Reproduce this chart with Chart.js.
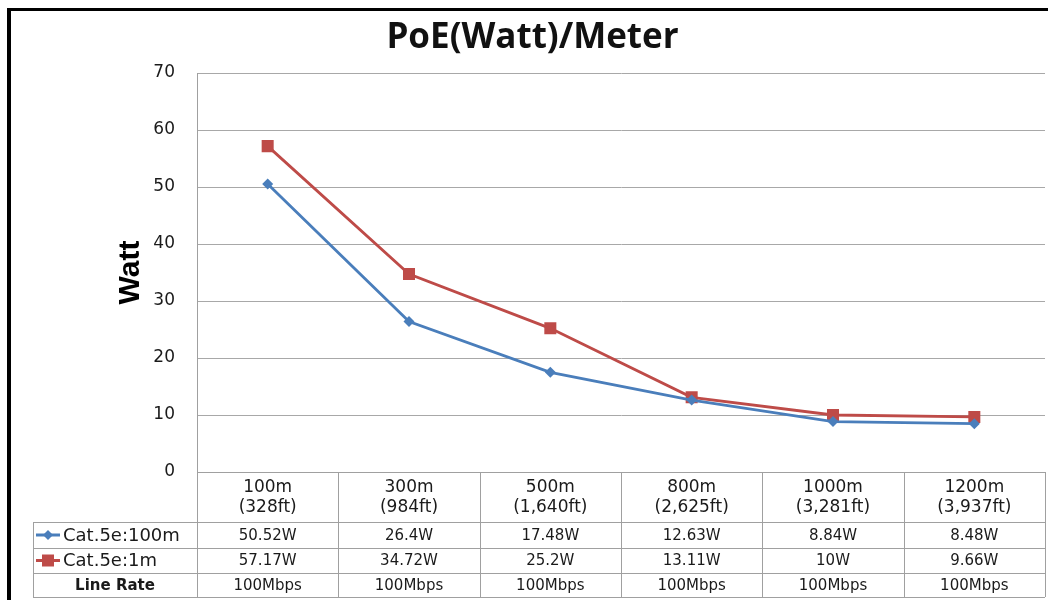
<!DOCTYPE html>
<html><head><meta charset="utf-8">
<script src="https://cdn.jsdelivr.net/npm/chart.js@4"></script>
<style>html,body{margin:0;padding:0;background:#fff}</style>
</head><body>
<canvas id="c" width="1048" height="600"></canvas>
<script>
// ---- data ----
const distances = ['100m', '300m', '500m', '800m', '1000m', '1200m'];
const feet = ['(328ft)', '(984ft)', '(1,640ft)', '(2,625ft)', '(3,281ft)', '(3,937ft)'];
const cat5e100m = [50.52, 26.4, 17.48, 12.63, 8.84, 8.48];
const cat5e1m = [57.17, 34.72, 25.2, 13.11, 10, 9.66];
const lineRate = ['100Mbps', '100Mbps', '100Mbps', '100Mbps', '100Mbps', '100Mbps'];
const seriesNames = ['Cat.5e:100m', 'Cat.5e:1m'];
const yMin = 0, yMax = 70, yStep = 10;

const blue = '#4A7EBB', red = '#BE4B48';

const bgPlugin = {
  id: 'bg',
  beforeDraw(chart) {
    const c = chart.ctx;
    c.save(); c.fillStyle = '#fff'; c.fillRect(0, 0, chart.width, chart.height); c.restore();
  }
};

function drawMarker(c, style, x, y, color) {
  c.fillStyle = color;
  c.beginPath();
  if (style === 'rectRot') {
    const r = 5;
    c.moveTo(x, y - r); c.lineTo(x + r, y); c.lineTo(x, y + r); c.lineTo(x - r, y); c.closePath();
  } else {
    const s = 6;
    c.rect(x - s, y - s, 2 * s, 2 * s);
  }
  c.fill();
}

const tablePlugin = {
  id: 'dataTable',
  afterDraw(chart) {
    const c = chart.ctx;
    const xs = chart.scales.x;
    const ca = chart.chartArea;
    const n = distances.length;
    const centers = distances.map((_, i) => xs.getPixelForValue(i));
    const half = (centers[1] - centers[0]) / 2;
    const bounds = [centers[0] - half].concat(centers.map(v => v + half));
    const top = ca.bottom;
    const hb = top + 50;
    const rowsY = [hb, hb + 26, hb + 51, hb + 75];
    const legendLeft = 33;
    const right = bounds[n];
    c.save();
    c.strokeStyle = '#a0a0a0';
    c.lineWidth = 1;
    c.beginPath();
    rowsY.forEach(y => { c.moveTo(legendLeft, y + 0.5); c.lineTo(right, y + 0.5); });
    c.moveTo(legendLeft + 0.5, hb); c.lineTo(legendLeft + 0.5, rowsY[3]);
    bounds.forEach(b => { c.moveTo(Math.round(b) + 0.5, top); c.lineTo(Math.round(b) + 0.5, rowsY[3]); });
    c.stroke();

    const rowsData = [cat5e100m.map(v => v + 'W'), cat5e1m.map(v => v + 'W'), lineRate];
    c.fillStyle = '#1a1a1a';
    c.textAlign = 'center';
    c.textBaseline = 'middle';
    c.font = '15px "DejaVu Sans"';
    rowsData.forEach((row, r) => {
      const my = (rowsY[r] + rowsY[r + 1]) / 2 + 1;
      row.forEach((t, i) => c.fillText(t, centers[i], my));
    });

    // legend keys
    const colors = [blue, red];
    const styles = ['rectRot', 'rect'];
    for (let r = 0; r < 2; r++) {
      const my = (rowsY[r] + rowsY[r + 1]) / 2;
      c.strokeStyle = colors[r];
      c.lineWidth = 3;
      c.beginPath(); c.moveTo(36, my); c.lineTo(60, my); c.stroke();
      drawMarker(c, styles[r], 48, my, colors[r]);
      c.fillStyle = '#1a1a1a';
      c.textAlign = 'left';
      c.font = '18px "DejaVu Sans"';
      c.fillText(seriesNames[r], 63, my + 1);
    }
    c.textAlign = 'center';
    c.font = 'bold 15px "DejaVu Sans"';
    c.fillText('Line Rate', (legendLeft + bounds[0]) / 2, (rowsY[2] + rowsY[3]) / 2 + 1);
    c.restore();
  }
};

const framePlugin = {
  id: 'frame',
  afterDraw(chart) {
    const c = chart.ctx;
    c.save();
    c.fillStyle = '#000';
    c.fillRect(7, 8, 4, chart.height - 8);
    c.fillRect(7, 8, chart.width - 7, 3);
    c.restore();
  }
};

new Chart(document.getElementById('c'), {
  type: 'line',
  data: {
    labels: distances.map((d, i) => [d, feet[i]]),
    datasets: [
      { label: seriesNames[0], data: cat5e100m, borderColor: blue, backgroundColor: blue,
        pointStyle: 'rectRot', pointRadius: 5.5, pointBorderWidth: 0, borderWidth: 2.8, tension: 0 },
      { label: seriesNames[1], data: cat5e1m, borderColor: red, backgroundColor: red,
        pointStyle: 'rect', pointRadius: 8.5, pointBorderWidth: 0, borderWidth: 2.8, tension: 0 }
    ]
  },
  options: {
    responsive: false,
    animation: false,
    devicePixelRatio: 1,
    layout: { autoPadding: false, padding: { left: 20, right: 3, top: 0, bottom: 0 } },
    plugins: {
      legend: { display: false },
      tooltip: { enabled: false },
      title: {
        display: true, text: 'PoE(Watt)/Meter', color: '#111',
        font: { family: 'Open Sans', size: 35, weight: 'bold' },
        padding: { top: 17, bottom: 14 }
      }
    },
    scales: {
      x: {
        offset: true,
        grid: { display: false, drawTicks: false },
        border: { display: true, color: '#a0a0a0' },
        ticks: { padding: 5, maxRotation: 0, autoSkip: false, color: '#1a1a1a',
                 font: { family: 'DejaVu Sans', size: 17 } },
        afterFit(s) { s.height = 128; s.paddingLeft = 0; s.paddingRight = 0; }
      },
      y: {
        min: yMin, max: yMax,
        ticks: { stepSize: yStep, padding: 22, color: '#1a1a1a',
                 font: { family: 'DejaVu Sans', size: 17 } },
        grid: { color: '#a8a8a8', drawTicks: false },
        border: { display: true, color: '#a0a0a0' },
        title: { display: true, text: 'Watt', color: '#000',
                 font: { family: 'Liberation Sans', size: 30, weight: 'bold' },
                 padding: { top: 93, bottom: 0 } },
        afterFit(s) { s.width = 177; }
      }
    }
  },
  plugins: [bgPlugin, tablePlugin, framePlugin]
});
</script>
</body></html>
